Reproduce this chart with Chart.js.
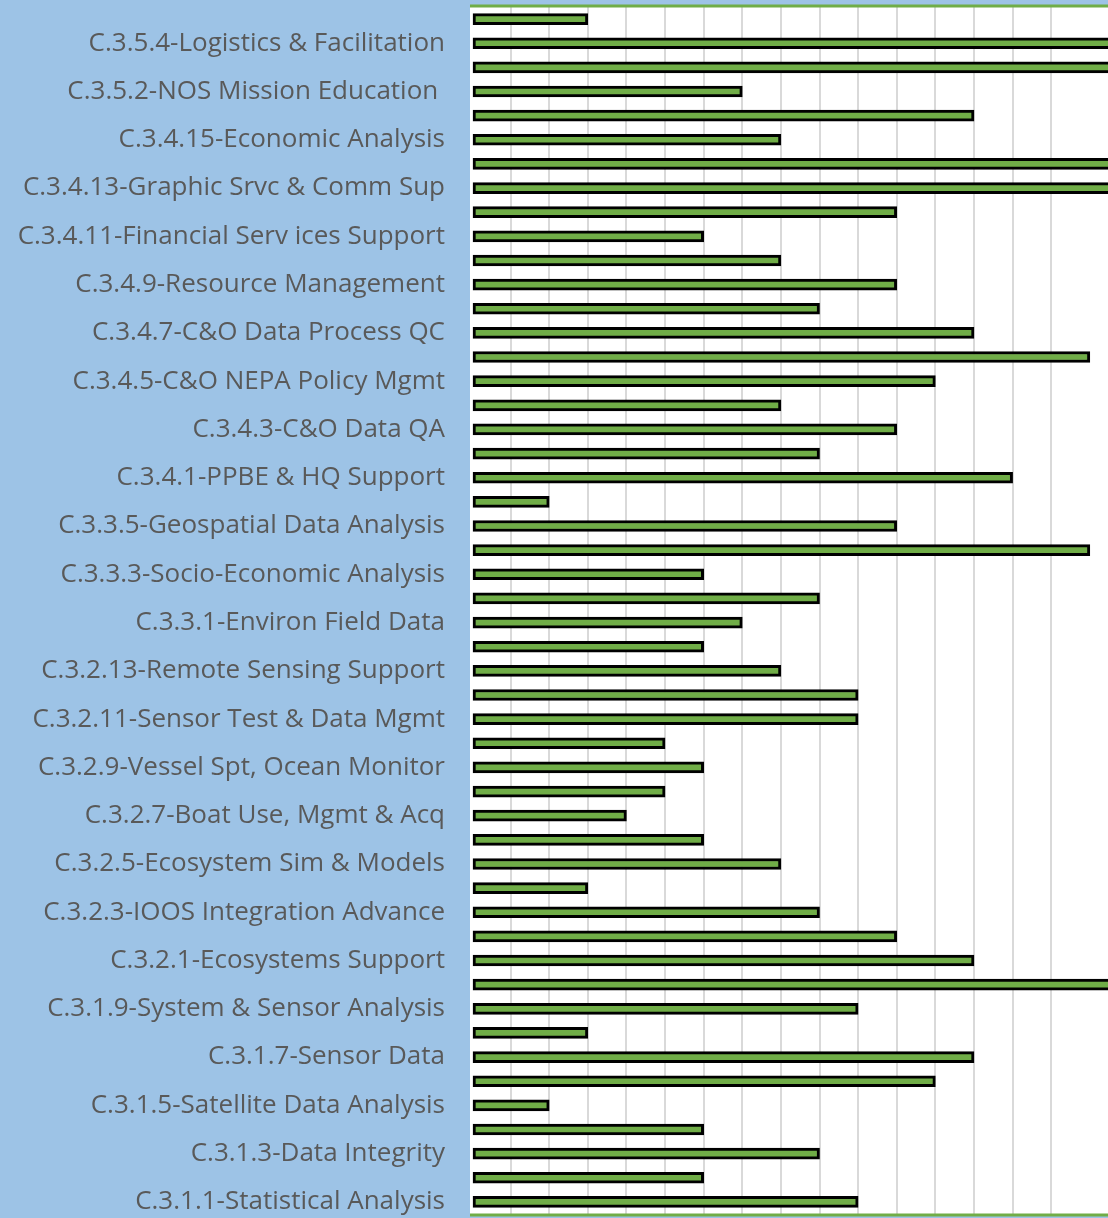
<!DOCTYPE html>
<html>
<head>
<meta charset="utf-8">
<script src="https://cdn.jsdelivr.net/npm/chart.js@4"></script>
<style>
  html, body { margin: 0; padding: 0; background: #9dc3e6; }
  #wrap { width: 1108px; height: 1218px; position: relative; }
</style>
</head>
<body>
<div id="wrap"><canvas id="chart"></canvas></div>
<script>
// categories, top to bottom (Excel draws the first one at the bottom,
// so this list is already flipped). Only every other name is shown.
const categories = [
  "C.3.5.5", "C.3.5.4-Logistics & Facilitation",
  "C.3.5.3", "C.3.5.2-NOS Mission Education ",
  "C.3.5.1", "C.3.4.15-Economic Analysis",
  "C.3.4.14", "C.3.4.13-Graphic Srvc & Comm Sup",
  "C.3.4.12", "C.3.4.11-Financial Serv ices Support",
  "C.3.4.10", "C.3.4.9-Resource Management",
  "C.3.4.8", "C.3.4.7-C&O Data Process QC",
  "C.3.4.6", "C.3.4.5-C&O NEPA Policy Mgmt",
  "C.3.4.4", "C.3.4.3-C&O Data QA",
  "C.3.4.2", "C.3.4.1-PPBE & HQ Support",
  "C.3.3.6", "C.3.3.5-Geospatial Data Analysis",
  "C.3.3.4", "C.3.3.3-Socio-Economic Analysis",
  "C.3.3.2", "C.3.3.1-Environ Field Data",
  "C.3.2.14", "C.3.2.13-Remote Sensing Support",
  "C.3.2.12", "C.3.2.11-Sensor Test & Data Mgmt",
  "C.3.2.10", "C.3.2.9-Vessel Spt, Ocean Monitor",
  "C.3.2.8", "C.3.2.7-Boat Use, Mgmt & Acq",
  "C.3.2.6", "C.3.2.5-Ecosystem Sim & Models",
  "C.3.2.4", "C.3.2.3-IOOS Integration Advance",
  "C.3.2.2", "C.3.2.1-Ecosystems Support",
  "C.3.1.10", "C.3.1.9-System & Sensor Analysis",
  "C.3.1.8", "C.3.1.7-Sensor Data",
  "C.3.1.6", "C.3.1.5-Satellite Data Analysis",
  "C.3.1.4", "C.3.1.3-Data Integrity",
  "C.3.1.2", "C.3.1.1-Statistical Analysis"
]

// counts read off the gridlines (bars that run off the right edge are guessed)
const counts = [
  3, 18,
  18, 7,
  13, 8,
  18, 18,
  11, 6,
  8, 11,
  9, 13,
  16, 12,
  8, 11,
  9, 14,
  2, 11,
  16, 6,
  9, 7,
  6, 8,
  10, 10,
  5, 6,
  5, 4,
  6, 8,
  3, 9,
  11, 13,
  18, 10,
  3, 13,
  12, 2,
  6, 9,
  6, 10
]

// the picture is cropped on the right, so the axis stops part way
const xMin = 0
const xMax = 16.47
const xStep = 1

// white plot area plus the green lines on top and bottom
const plotFrame = {
  id: 'plotFrame',
  beforeDraw(chart) {
    const a = chart.chartArea
    const c = chart.ctx
    c.save()
    c.fillStyle = '#ffffff'
    c.fillRect(a.left - 2, a.top, a.right - a.left + 2, a.bottom - a.top)
    c.restore()
  },
  afterDraw(chart) {
    const a = chart.chartArea
    const c = chart.ctx
    c.save()
    c.strokeStyle = '#70ad47'
    c.lineWidth = 3
    c.beginPath()
    c.moveTo(a.left - 2, a.top - 1)
    c.lineTo(a.right, a.top - 1)
    c.moveTo(a.left - 2, a.bottom + 1)
    c.lineTo(a.right, a.bottom + 1)
    c.stroke()
    c.restore()
  }
}

const ctx = document.getElementById('chart')

new Chart(ctx, {
  type: 'bar',
  data: {
    labels: categories,
    datasets: [{
      label: 'Count',
      data: counts,
      backgroundColor: '#70ad47',
      borderColor: '#000000',
      borderWidth: 3,
      borderSkipped: false,
      barThickness: 11
    }]
  },
  options: {
    indexAxis: 'y',
    responsive: true,
    maintainAspectRatio: false,
    animation: false,
    layout: { padding: { top: 7, bottom: 4, left: 0, right: 0 } },
    plugins: {
      legend: { display: false },
      tooltip: { enabled: false }
    },
    scales: {
      x: {
        min: xMin,
        max: xMax,
        ticks: { display: false, stepSize: xStep },
        grid: {
          drawTicks: false,
          lineWidth: 2,
          color: (c) => (Number.isInteger(c.tick.value) && c.tick.value > 0) ? '#d9d9d9' : 'rgba(0,0,0,0)'
        },
        border: { display: false }
      },
      y: {
        afterFit(scale) {
          scale.width = 472
          // labels sit on the category centres, no extra room needed above/below
          scale.paddingTop = 0
          scale.paddingBottom = 0
        },
        grid: { display: false, drawTicks: false },
        border: { display: false },
        ticks: {
          autoSkip: false,
          padding: 27,
          color: '#595959',
          font: { family: 'Open Sans', size: 26 },
          callback: function (value, index) {
            return index % 2 === 1 ? this.getLabelForValue(value) : ''
          }
        }
      }
    }
  },
  plugins: [plotFrame]
});
</script>
</body>
</html>
